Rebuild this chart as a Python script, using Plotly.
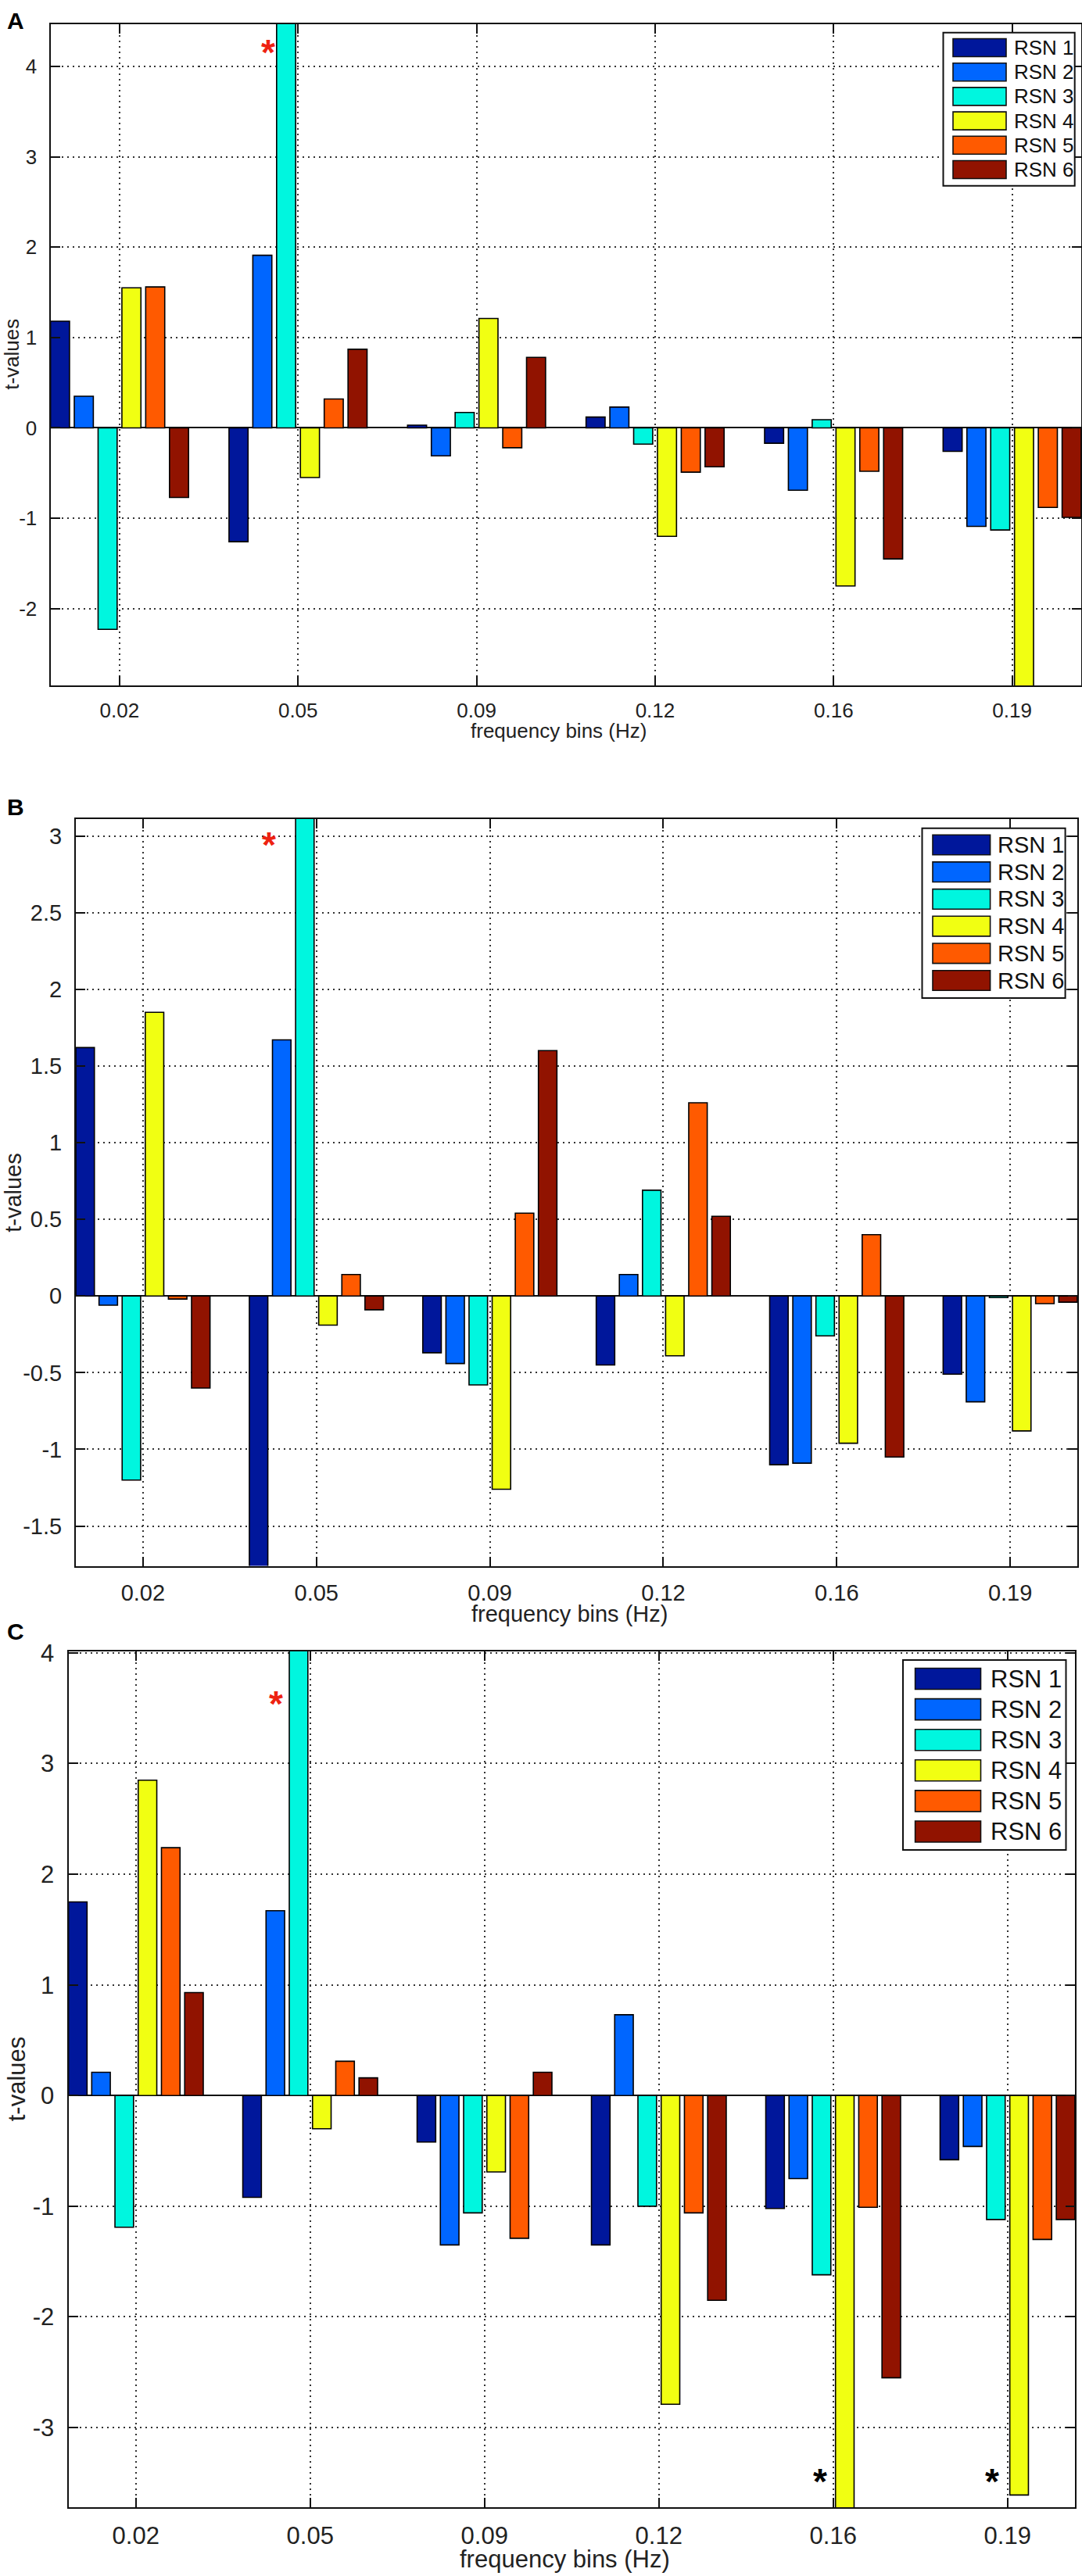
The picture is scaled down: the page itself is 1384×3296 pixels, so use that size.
import plotly.graph_objects as go

W, H = 1384, 3296
FONT = "Liberation Sans Narrow, Liberation Sans, Arial, sans-serif"
BOLD = "Liberation Sans, Arial, sans-serif"

rsn_names = ["RSN 1", "RSN 2", "RSN 3", "RSN 4", "RSN 5", "RSN 6"]
rsn_colors = ["#00179b", "#0066ff", "#00f6df", "#f1ff12", "#ff5a00", "#911300"]
freq_bins = [1, 2, 3, 4, 5, 6]
freq_labels = ["0.02", "0.05", "0.09", "0.12", "0.16", "0.19"]

# panel A: one list per RSN, one t-value per frequency bin
a_rsn1 = [1.18, -1.26, 0.03, 0.12, -0.17, -0.26]
a_rsn2 = [0.35, 1.91, -0.31, 0.23, -0.69, -1.09]
a_rsn3 = [-2.23, 4.55, 0.17, -0.18, 0.09, -1.13]
a_rsn4 = [1.55, -0.55, 1.21, -1.20, -1.75, -2.95]
a_rsn5 = [1.56, 0.32, -0.22, -0.49, -0.48, -0.88]
a_rsn6 = [-0.77, 0.87, 0.78, -0.43, -1.45, -0.99]

# panel B
b_rsn1 = [1.62, -1.85, -0.37, -0.45, -1.10, -0.51]
b_rsn2 = [-0.06, 1.67, -0.44, 0.14, -1.09, -0.69]
b_rsn3 = [-1.20, 3.25, -0.58, 0.69, -0.26, -0.01]
b_rsn4 = [1.85, -0.19, -1.26, -0.39, -0.96, -0.88]
b_rsn5 = [-0.02, 0.14, 0.54, 1.26, 0.40, -0.05]
b_rsn6 = [-0.60, -0.09, 1.60, 0.52, -1.05, -0.04]

# panel C
c_rsn1 = [1.75, -0.92, -0.42, -1.35, -1.02, -0.58]
c_rsn2 = [0.21, 1.67, -1.35, 0.73, -0.75, -0.46]
c_rsn3 = [-1.19, 4.15, -1.06, -1.00, -1.62, -1.12]
c_rsn4 = [2.85, -0.30, -0.69, -2.79, -3.85, -3.61]
c_rsn5 = [2.24, 0.31, -1.29, -1.06, -1.01, -1.30]
c_rsn6 = [0.93, 0.16, 0.21, -1.85, -2.55, -1.12]

# y tick labels
a_yticks = [-2, -1, 0, 1, 2, 3, 4]
a_ytext = ["-2", "-1", "0", "1", "2", "3", "4"]
b_yticks = [-1.5, -1, -0.5, 0, 0.5, 1, 1.5, 2, 2.5, 3]
b_ytext = ["-1.5", "-1", "-0.5", "0", "0.5", "1", "1.5", "2", "2.5", "3"]
c_yticks = [-3, -2, -1, 0, 1, 2, 3, 4]
c_ytext = ["-3", "-2", "-1", "0", "1", "2", "3", "4"]

# significance stars (x in bin units, y in t-values)
a_star_x, a_star_y, a_star_c = [1.834], [4.25], ["#ee2211"]
b_star_x, b_star_y, b_star_c = [1.728], [3.0], ["#ee2211"]
c_star_x, c_star_y, c_star_c = [1.805, 4.924, 5.912], [3.62, -3.41, -3.41], ["#ee2211", "black", "black"]


def px_x(v):
    return v / W


def px_y(v):
    return 1 - v / H


panels = [
    dict(letter="A", values=[a_rsn1, a_rsn2, a_rsn3, a_rsn4, a_rsn5, a_rsn6],
         yr=[-2.85, 4.47], ytv=a_yticks, ytt=a_ytext,
         box=(64.5, 30.6, 1383, 877), font=26, letter_y=27, xlab_y=935, ylab_x=15,
         leg=(1206.5, 41.7, 1374.7, 237.7), leg_y0=61, leg_dy=31.2,
         sw=(1219, 1287), sw_h=23, txt_x=1295,
         stars=(a_star_x, a_star_y, a_star_c)),
    dict(letter="B", values=[b_rsn1, b_rsn2, b_rsn3, b_rsn4, b_rsn5, b_rsn6],
         yr=[-1.76, 3.11], ytv=b_yticks, ytt=b_ytext,
         box=(97, 1048, 1378, 2003.6), font=29, letter_y=1032, xlab_y=2065, ylab_x=17,
         leg=(1179.5, 1059.8, 1362.6, 1277), leg_y0=1081, leg_dy=34.7,
         sw=(1193, 1266.6), sw_h=25.6, txt_x=1274,
         stars=(b_star_x, b_star_y, b_star_c)),
    dict(letter="C", values=[c_rsn1, c_rsn2, c_rsn3, c_rsn4, c_rsn5, c_rsn6],
         yr=[-3.72, 4.016], ytv=c_yticks, ytt=c_ytext,
         box=(87.5, 2112.6, 1375, 3208), font=31, letter_y=2087, xlab_y=3274, ylab_x=21,
         leg=(1155, 2124, 1363.5, 2367), leg_y0=2148, leg_dy=39.1,
         sw=(1170.6, 1254.5), sw_h=27, txt_x=1265,
         stars=(c_star_x, c_star_y, c_star_c)),
]

fig = go.Figure()
shapes = []
annotations = []
layout_axes = {}

for k, p in enumerate(panels):
    sfx = "" if k == 0 else str(k + 1)
    xa, ya = "x" + sfx, "y" + sfx
    x0, y0, x1, y1 = p["box"]
    for i, vals in enumerate(p["values"]):
        fig.add_trace(go.Bar(
            x=freq_bins, y=vals, name=rsn_names[i], xaxis=xa, yaxis=ya,
            marker=dict(color=rsn_colors[i], line=dict(color="black", width=1.6)),
            showlegend=False,
        ))

    axis_common = dict(
        showline=True, linecolor="#111", linewidth=2, mirror="ticks",
        ticks="inside", ticklen=12, tickwidth=2, tickcolor="#111",
        showgrid=True, gridcolor="#333", gridwidth=1.5, griddash="2px,5px",
        tickfont=dict(family=FONT, size=p["font"], color="#222"),
        fixedrange=True, automargin=False,
    )
    layout_axes["xaxis" + sfx] = dict(
        axis_common, domain=[px_x(x0), px_x(x1)], anchor=ya,
        range=[0.613, 6.387], tickvals=freq_bins, ticktext=freq_labels,
        zeroline=False, ticklabelstandoff=8,
    )
    layout_axes["yaxis" + sfx] = dict(
        axis_common, domain=[px_y(y1), px_y(y0)], anchor=xa,
        range=p["yr"], tickvals=p["ytv"], ticktext=p["ytt"],
        zeroline=True, zerolinecolor="#111", zerolinewidth=2, ticklabelstandoff=10,
    )

    # panel letter and axis titles
    annotations.append(dict(
        text="<b>" + p["letter"] + "</b>", x=px_x(20), y=px_y(p["letter_y"]),
        xref="paper", yref="paper", showarrow=False, xanchor="center", yanchor="middle",
        font=dict(family=BOLD, size=30, color="black"),
    ))
    annotations.append(dict(
        text="frequency bins (Hz)", x=px_x((x0 + x1) / 2 - 9), y=px_y(p["xlab_y"]),
        xref="paper", yref="paper", showarrow=False, xanchor="center", yanchor="middle",
        font=dict(family=FONT, size=p["font"], color="#222"),
    ))
    annotations.append(dict(
        text="t-values", x=px_x(p["ylab_x"]), y=px_y((y0 + y1) / 2), textangle=-90,
        xref="paper", yref="paper", showarrow=False, xanchor="center", yanchor="middle",
        font=dict(family=FONT, size=p["font"], color="#222"),
    ))

    # significance stars
    sx, sy, sc = p["stars"]
    for j in range(len(sx)):
        annotations.append(dict(
            text="<b>*</b>", x=sx[j], y=sy[j], xref=xa, yref=ya, showarrow=False,
            xanchor="center", yanchor="middle", yshift=-11,
            font=dict(family=BOLD, size=46, color=sc[j]),
        ))

    # legend box drawn by hand to get MATLAB-sized swatches
    lx0, ly0, lx1, ly1 = p["leg"]
    shapes.append(dict(
        type="rect", xref="paper", yref="paper",
        x0=px_x(lx0), x1=px_x(lx1), y0=px_y(ly1), y1=px_y(ly0),
        line=dict(color="#111", width=2), fillcolor="white",
    ))
    for i, name in enumerate(rsn_names):
        cy = p["leg_y0"] + i * p["leg_dy"]
        shapes.append(dict(
            type="rect", xref="paper", yref="paper",
            x0=px_x(p["sw"][0]), x1=px_x(p["sw"][1]),
            y0=px_y(cy + p["sw_h"] / 2), y1=px_y(cy - p["sw_h"] / 2),
            line=dict(color="#111", width=1.6), fillcolor=rsn_colors[i],
        ))
        annotations.append(dict(
            text=name, x=px_x(p["txt_x"]), y=px_y(cy), xref="paper", yref="paper",
            showarrow=False, xanchor="left", yanchor="middle",
            font=dict(family=FONT, size=p["font"], color="#111"),
        ))

fig.update_layout(
    width=W, height=H,
    margin=dict(l=0, r=0, t=0, b=0),
    paper_bgcolor="white", plot_bgcolor="white",
    barmode="group", bargap=0.2, bargroupgap=0.2,
    showlegend=False,
    shapes=shapes, annotations=annotations,
    **layout_axes,
)

fig.write_html("out.html", config={"displayModeBar": False},
               post_script="document.body.style.margin='0';")
